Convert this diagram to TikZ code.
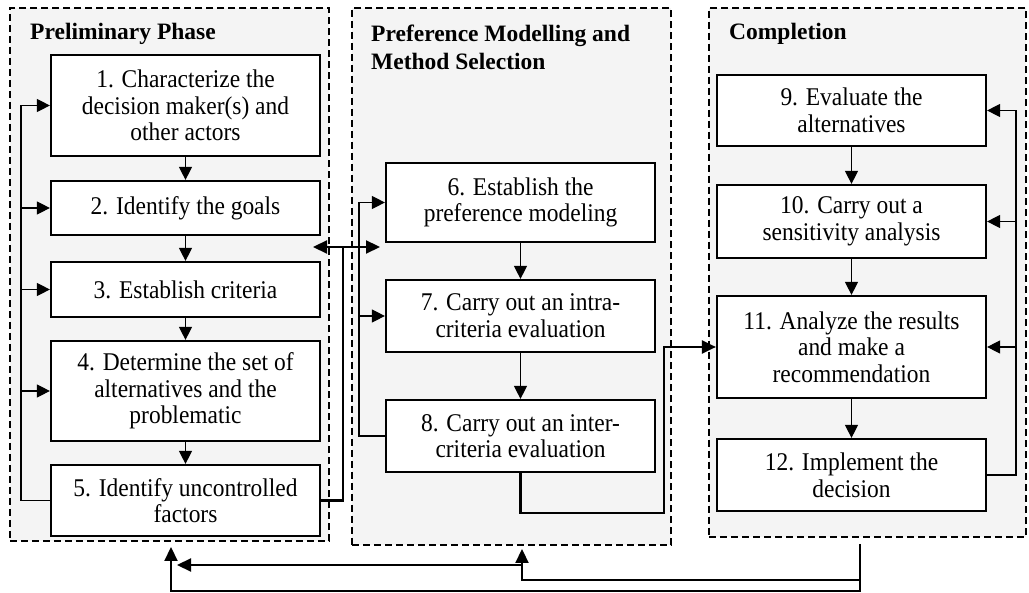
\documentclass[tikz,border=0pt]{standalone}
\usepackage{fontspec}
\setmainfont{Liberation Serif}[FakeStretch=0.92]
\newfontfamily\ttlfont{Liberation Serif}
\usetikzlibrary{arrows.meta,calc}
\definecolor{panelgray}{RGB}{244,244,244}
\begin{document}
\begin{tikzpicture}[x=1pt,y=-1pt,
  panel/.style={draw, dash pattern=on 7pt off 4pt, line width=2pt, fill=panelgray, rectangle, inner sep=0pt},
  stepbox/.style={draw, line width=2.2pt, fill=white, rectangle, inner sep=0pt, minimum width=269pt, align=center, font=\fontsize{25.5}{26.7}\selectfont},
  ttl/.style={anchor=west, inner sep=0pt, align=left, font=\ttlfont\fontsize{23.5}{28}\selectfont\bfseries},
  arr/.style={line width=1.2pt, -{Triangle[length=13pt,width=13pt]}},
  thk/.style={line width=2.2pt},
  thkarr/.style={line width=2.2pt, -{Triangle[length=14pt,width=13pt]}},
]
\useasboundingbox (0,0) rectangle (1029,593);

% panels
\node[panel, minimum width=319pt, minimum height=533pt] (PL) at (169.5,274.5) {};
\node[panel, minimum width=319pt, minimum height=537pt] (PM) at (511.5,276.5) {};
\node[panel, minimum width=317pt, minimum height=529pt] (PR) at (867.5,272.5) {};

% titles
\node[ttl] (T1) at (30,34) {Preliminary Phase};
\node[ttl] (T2) at (371,47) {Preference Modelling and\\Method Selection};
\node[ttl] (T3) at (729,34) {Completion};

% left boxes
\node[stepbox, minimum height=101pt] (B1) at (185.5,105.5) {1. Characterize the\\decision maker(s) and\\other actors};
\node[stepbox, minimum height=54pt] (B2) at (185.5,208) {2. Identify the goals};
\node[stepbox, minimum height=55pt] (B3) at (185.5,289.5) {3. Establish criteria};
\node[stepbox, minimum height=100pt] (B4) at (185.5,391) {4. Determine the set of\\alternatives and the\\problematic};
\node[stepbox, minimum height=71pt] (B5) at (185.5,500.5) {5. Identify uncontrolled\\factors};

% middle boxes
\node[stepbox, minimum height=79pt] (B6) at (520.5,202.5) {6. Establish the\\preference modeling};
\node[stepbox, minimum height=72pt] (B7) at (520.5,316) {7. Carry out an intra-\\criteria evaluation};
\node[stepbox, minimum height=72pt] (B8) at (520.5,436) {8. Carry out an inter-\\criteria evaluation};

% right boxes
\node[stepbox, minimum height=71pt] (B9) at (851.5,110.5) {9. Evaluate the\\alternatives};
\node[stepbox, minimum height=73pt] (B10) at (851.5,221.5) {10. Carry out a\\sensitivity analysis};
\node[stepbox, minimum height=102pt] (B11) at (851.5,347) {11. Analyze the results\\and make a\\recommendation};
\node[stepbox, minimum height=72pt] (B12) at (851.5,475) {12. Implement the\\decision};

% sequential arrows
\draw[arr] (B1.south) -- (B2.north);
\draw[arr] (B2.south) -- (B3.north);
\draw[arr] (B3.south) -- (B4.north);
\draw[arr] (B4.south) -- (B5.north);
\draw[arr] (B6.south) -- (B7.north);
\draw[arr] (B7.south) -- (B8.north);
\draw[arr] (B9.south) -- (B10.north);
\draw[arr] (B10.south) -- (B11.north);
\draw[arr] (B11.south) -- (B12.north);

% feedback loops
\coordinate (fbL) at (21,0);
\draw[arr] (B5.west) -| (fbL |- B1.west) -- (B1.west);
\foreach \b in {B2,B3,B4} \draw[arr] (fbL |- \b.west) -- (\b.west);

\coordinate (fbM) at (359,0);
\draw[arr] (B8.west) -| (fbM |- B6.west) -- (B6.west);
\draw[arr] (fbM |- B7.west) -- (B7.west);

\coordinate (fbR) at (1016,0);
\draw[arr] (B12.east) -| (fbR |- B9.east) -- (B9.east);
\foreach \b in {B10,B11} \draw[arr] (fbR |- \b.east) -- (\b.east);

% link left <-> middle
\coordinate (dA) at (313,247);
\coordinate (dB) at (380,247);
\coordinate (dJ) at (343,247);
\draw[thk] (B5.east) -| (dJ);
\draw[thk, {Triangle[length=14pt,width=13pt]}-{Triangle[length=14pt,width=13pt]}] (dA) -- (dB);

% middle -> right
\coordinate (k1) at (664,513);
\draw[thkarr] (B8.south) |- (k1) |- (B11.west);

% bottom returns
\coordinate (rs) at (860,544);
\coordinate (yb1) at (171,591);
\coordinate (tL) at ($(PL.south)+(1.5,5)$);
\coordinate (yb2) at (0,580);
\coordinate (tM) at ($(PM.south)+(10.5,3)$);
\coordinate (m3) at (522,565);
\coordinate (tL2) at (177,565);
\draw[thkarr] (rs) |- (yb1) -- (tL);
\draw[thkarr] (rs |- yb2) -| (tM);
\draw[thkarr] (m3) -- (tL2);
\end{tikzpicture}
\end{document}
